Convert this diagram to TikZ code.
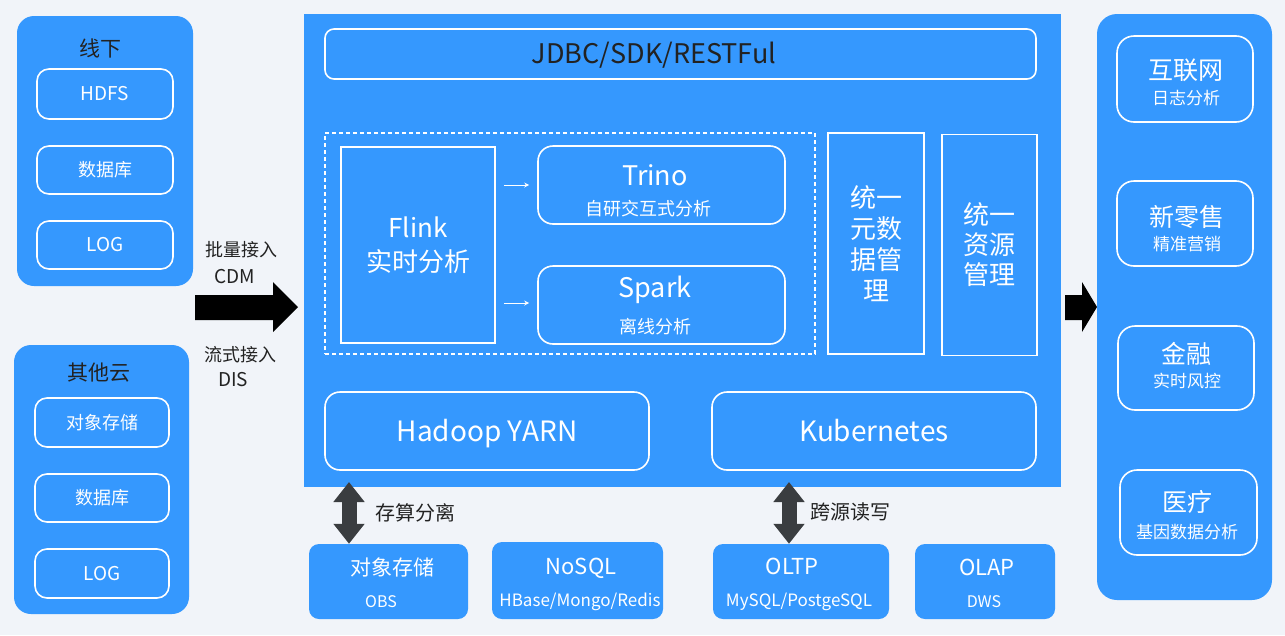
\documentclass[tikz,border=0pt]{standalone}
\usepackage{fontspec}
\setmainfont{Noto Sans CJK SC}
\usetikzlibrary{arrows.meta,calc}
\definecolor{bgc}{HTML}{F1F4F9}
\definecolor{bl}{HTML}{3598FE}
\definecolor{dk}{HTML}{3A3D40}
\definecolor{tx}{HTML}{222222}
\begin{document}
\begin{tikzpicture}[x=1pt,y=-1pt,
  panel/.style={fill=bl, rounded corners=17pt, inner sep=0pt},
  wbox/.style={draw=white, line width=1.6pt, rounded corners=12pt, inner sep=0pt, text=white},
  sqbox/.style={draw=white, line width=1.6pt, inner sep=0pt, text=white},
  fbox/.style={fill=bl, rounded corners=10pt, inner sep=0pt},
  fs/.style={font=\fontsize{#1}{#1}\selectfont},
  wt/.style={text=white, inner sep=0pt, fs=#1},
  dt/.style={text=tx, inner sep=0pt, fs=#1},
  blockarrow/.style={fill=black},
  dbl/.style={draw=dk, line width=15pt, {Triangle[width=30pt,length=20pt]}-{Triangle[width=30pt,length=20pt]}},
  small/.style={draw=white, line width=0.8pt, -{Stealth[length=5pt,width=5pt]}}
]
\useasboundingbox (0,0) rectangle (1285,635);
\fill[bgc] (0,0) rectangle (1285,635);

% ---------- left panels ----------
\node[panel, minimum width=176pt, minimum height=270pt] (off) at (105,151) {};
\node[dt=21] (offt) at (100,48) {线下};
\node[wbox, minimum width=136pt, minimum height=50pt, fs=19] (hdfs) at (105,94) {HDFS};
\node[wbox, minimum width=136pt, minimum height=48pt, fs=18] (db1) at (105,170) {数据库};
\node[wbox, minimum width=136pt, minimum height=48pt, fs=19] (log1) at (105,245) {LOG};

\node[panel, minimum width=175pt, minimum height=269pt] (cloud) at (101.5,479.5) {};
\node[dt=21] (cloudt) at (99,373) {其他云};
\node[wbox, minimum width=134pt, minimum height=49pt, fs=18] (obs1) at (102,422.5) {对象存储};
\node[wbox, minimum width=134pt, minimum height=48pt, fs=18] (db2) at (102,498) {数据库};
\node[wbox, minimum width=134pt, minimum height=49pt, fs=19] (log2) at (102,573.5) {LOG};

% ---------- ingest labels and arrow ----------
\node[dt=18] (l1) at (241,250) {批量接入};
\node[dt=19] (l2) at (235,277) {CDM};
\node[dt=18] (l3) at (240,355) {流式接入};
\node[dt=19] (l4) at (233,380) {DIS};
\fill[blockarrow] (195,295) -- (273,295) -- (273,282) -- (298,307) -- (273,332) -- (273,320) -- (195,320) -- cycle;

% ---------- main platform ----------
\node[fill=bl, inner sep=0pt, minimum width=757pt, minimum height=473pt] (main) at (682.5,250.5) {};
\node[draw=white, line width=1.6pt, rounded corners=9pt, inner sep=0pt,
      minimum width=711pt, minimum height=50pt] (jdbc) at (680.5,54) {};
\node[dt=27] (jdbct) at (654,55) {JDBC/SDK/RESTFul};
\node[draw=white, line width=1.4pt, dash pattern=on 4pt off 3pt, inner sep=0pt,
      minimum width=490pt, minimum height=221pt] (zone) at (570,243.5) {};
\node[sqbox, minimum width=154pt, minimum height=196pt, align=center,
      font=\fontsize{26}{34}\selectfont] (flink) at (418,245) {Flink\\实时分析};
\node[wbox, rounded corners=15pt, minimum width=247pt, minimum height=78pt] (trino) at (661.5,185) {};
\node[wt=27] (trinot) at (655,175) {Trino};
\node[wt=18] (trinos) at (648,209) {自研交互式分析};
\node[wbox, rounded corners=15pt, minimum width=247pt, minimum height=78pt] (spark) at (661.5,305) {};
\node[wt=27] (sparkt) at (655,290) {Spark};
\node[wt=18] (sparks) at (655,327) {离线分析};
\draw[small] ($(flink.east |- trino.west)+(8,0)$) -- ($(trino.west)+(-8,0)$);
\draw[small] ($(flink.east |- 0,303)+(8,0)$) -- ($(spark.west |- 0,303)+(-8,0)$);

\node[sqbox, minimum width=96pt, minimum height=221pt, align=center,
      font=\fontsize{26}{31}\selectfont] (meta) at (876,243.5) {统一\\元数\\据管\\理};
\node[sqbox, minimum width=95pt, minimum height=221pt, align=center,
      font=\fontsize{26}{30}\selectfont] (res) at (989.5,245) {统一\\资源\\管理};
\node[wbox, rounded corners=15pt, minimum width=324pt, minimum height=78pt] (yarn) at (487,431) {};
\node[wt=28, anchor=base] (yarnt) at (487,441) {Hadoop YARN};
\node[wbox, rounded corners=15pt, minimum width=324pt, minimum height=78pt] (k8s) at (874,431) {};
\node[wt=28, anchor=base] (k8st) at (874,441) {Kubernetes};

% ---------- output arrow and right panel ----------
\fill[blockarrow] (1065,295) -- (1082,295) -- (1082,282) -- (1097,307) -- (1082,332) -- (1082,320) -- (1065,320) -- cycle;
\node[panel, rounded corners=20pt, minimum width=175pt, minimum height=586pt] (apps) at (1184.5,307) {};
\node[wbox, rounded corners=17pt, minimum width=136pt, minimum height=86pt] (inet) at (1185,79) {};
\node[wt=25] (inett) at (1186,70) {互联网};
\node[wt=17] (inets) at (1186,98) {日志分析};
\node[wbox, rounded corners=17pt, minimum width=136pt, minimum height=85pt] (retail) at (1185,223.5) {};
\node[wt=25] (retailt) at (1187,217) {新零售};
\node[wt=17] (retails) at (1187,244) {精准营销};
\node[wbox, rounded corners=17pt, minimum width=136pt, minimum height=84pt] (fin) at (1186,368) {};
\node[wt=25] (fint) at (1186,354) {金融};
\node[wt=17] (fins) at (1187,381) {实时风控};
\node[wbox, rounded corners=17pt, minimum width=137pt, minimum height=85pt] (med) at (1188.5,512.5) {};
\node[wt=25] (medt) at (1187,502) {医疗};
\node[wt=17] (meds) at (1187,532) {基因数据分析};

% ---------- storage ----------
\node[fbox, minimum width=159pt, minimum height=75pt] (oss) at (388.5,581.5) {};
\node[wt=21] (osst) at (392,567) {对象存储};
\node[wt=16] (osss) at (381,602) {OBS};
\node[fbox, minimum width=171pt, minimum height=77pt] (nosql) at (577.5,580.5) {};
\node[wt=22] (nosqlt) at (581,568) {NoSQL};
\node[wt=17] (nosqls) at (580,602) {HBase/Mongo/Redis};
\node[fbox, minimum width=176pt, minimum height=75pt] (oltp) at (801,581.5) {};
\node[wt=22] (oltpt) at (792,566) {OLTP};
\node[wt=17] (oltps) at (799,602) {MySQL/PostgeSQL};
\node[fbox, minimum width=140pt, minimum height=75pt] (olap) at (985,581.5) {};
\node[wt=22] (olapt) at (987,567) {OLAP};
\node[wt=16] (olaps) at (984,602) {DWS};

\coordinate (c1) at (349,482);
\coordinate (c2) at (789,482);
\draw[dbl] (c1) -- (c1 |- oss.north);
\draw[dbl] (c2) -- (c2 |- oltp.north);
\node[dt=20] (sep) at (415,513) {存算分离};
\node[dt=20] (cross) at (850,512) {跨源读写};
\end{tikzpicture}
\end{document}
